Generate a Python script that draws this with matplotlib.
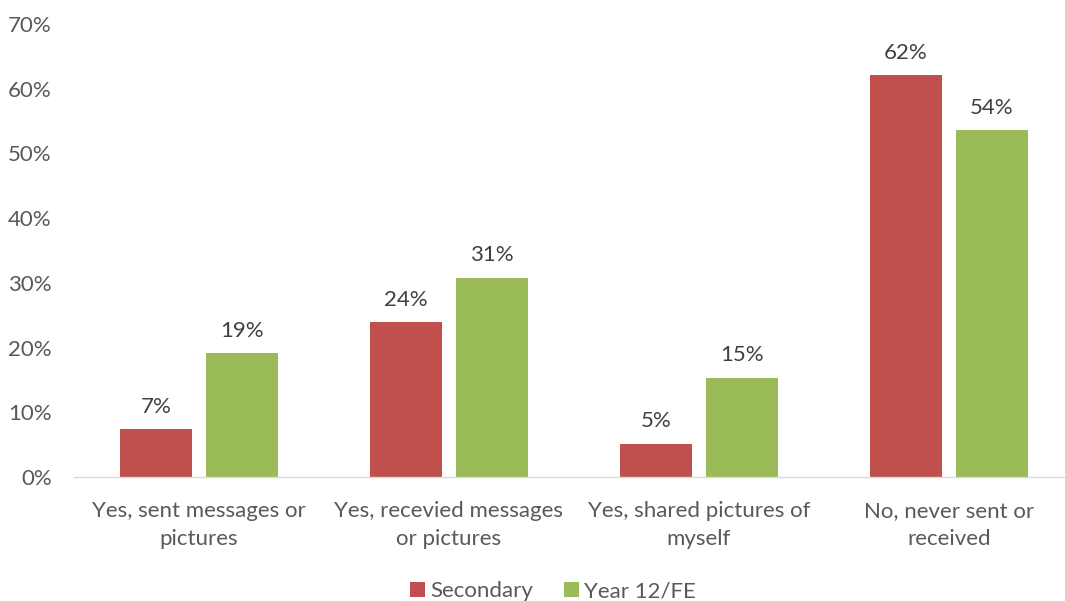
import matplotlib
matplotlib.use("Agg")
import matplotlib.pyplot as plt
import numpy as np

categories = ["Yes, sent messages or\npictures", "Yes, recevied messages\nor pictures",
              "Yes, shared pictures of\nmyself", "No, never sent or\nreceived"]
secondary = [7.4, 23.9, 5.1, 62.1]
year12 = [19.1, 30.8, 15.3, 53.6]
secondary_labels = ["7%", "24%", "5%", "62%"]
year12_labels = ["19%", "31%", "15%", "54%"]
yticks = [0, 10, 20, 30, 40, 50, 60, 70]

RED = "#C0504D"
GREEN = "#9BBB59"
TXT = "#595959"

plt.rcParams['font.family'] = ['Lato', 'DejaVu Sans']
fig = plt.figure(figsize=(10.65, 6.01), dpi=100)
W, H = 1065, 601
ax = fig.add_axes([74 / W, (H - 477) / H, 1 - 74 / W, (477 - 24) / H])

x = np.arange(len(categories))
bw = 0.288
off = 0.172
b1 = ax.bar(x - off, secondary, bw, color=RED, label="Secondary", zorder=2)
b2 = ax.bar(x + off, year12, bw, color=GREEN, label="Year 12/FE", zorder=2)

fs = 16
for bars, labs in ((b1, secondary_labels), (b2, year12_labels)):
    for r, l in zip(bars, labs):
        ax.annotate(l, (r.get_x() + r.get_width() / 2, r.get_height()),
                    xytext=(0, 9), textcoords="offset points", ha="center", va="bottom",
                    fontsize=fs, color="#404040")

ax.set_ylim(0, 70)
ax.set_xlim(-0.5, -0.5 + 991 / 250)
ax.set_yticks(yticks)
ax.set_yticklabels([f"{v}%" for v in yticks])
ax.set_xticks(x)
ax.set_xticklabels(categories, linespacing=1.5)
ax.tick_params(axis='both', length=0, labelsize=fs, colors=TXT)
ax.tick_params(axis='y', pad=16)
ax.tick_params(axis='x', pad=17)
for s in ("top", "right", "left"):
    ax.spines[s].set_visible(False)
ax.spines["bottom"].set_color("#D9D9D9")
ax.spines["bottom"].set_linewidth(1.0)

fig.legend(handles=[b1, b2], loc="center", bbox_to_anchor=(553 / W, (H - 591) / H),
           ncol=2, frameon=False, fontsize=fs, labelcolor=TXT, handlelength=0.65,
           handleheight=0.65, handletextpad=0.25, columnspacing=1.4)

fig.savefig("out.png", dpi=100)
